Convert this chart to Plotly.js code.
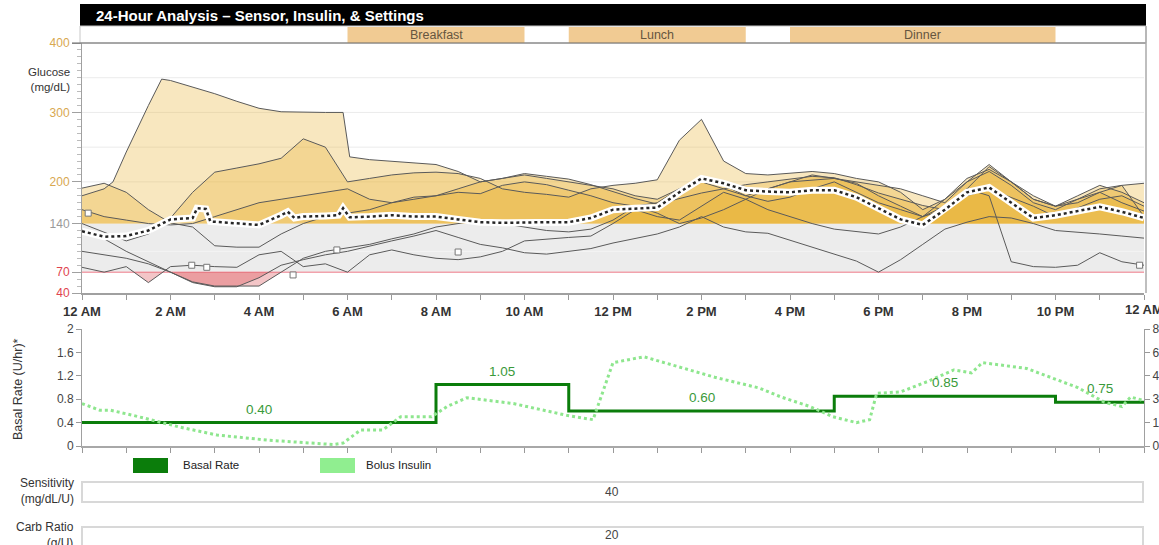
<!DOCTYPE html>
<html><head><meta charset="utf-8">
<script src="https://cdn.plot.ly/plotly-3.0.1.min.js"></script>
<style>html,body{margin:0;padding:0;background:#fff;}#chart{width:1159px;height:545px;}</style>
</head><body><div id="chart"></div>
<script>
// ---------------- DATA ----------------
const TIMES = [0,0.5,1,1.5,2,2.5,3,3.5,4,4.5,5,5.5,6,6.5,7,7.5,8,8.5,9,9.5,10,10.5,11,11.5,12,12.5,13,13.5,14,14.5,15,15.5,16,16.5,17,17.5,18,18.5,19,19.5,20,20.5,21,21.5,22,22.5,23,23.5,24];

const day1Times = [0,0.5,0.7,1,1.5,1.8,2,2.5,3,3.5,4,4.5,5,5.5,5.9,6.05,6.5,7,7.5,8,8.5,9,9.5,10,10.5,11,11.5,12,12.5,13,13.5,14,14.5,15,15.5,16,16.5,17,17.5,18,18.5,19,19.5,20,20.5,21,21.5,22,22.5,23,23.5,24];
const day1Vals  = [180,190,200,243,310,348,346,337,327,316,306,301,300,300,300,236,232,230,228,225,215,200,205,212,208,204,196,186,176,168,176,184,190,196,200,204,208,206,196,184,175,166,160,190,222,200,175,165,180,195,185,170];
const day2Vals = [140,128,115,125,148,185,214,220,226,234,262,250,200,205,210,213,214,212,205,190,185,182,178,190,195,198,203,260,290,230,212,210,212,215,212,205,200,185,160,175,205,218,200,180,165,175,185,170,158];
const day3Vals = [191,198,185,160,141,135,108,106,106,125,140,150,155,160,170,178,180,185,183,195,200,196,188,180,170,165,170,190,205,195,180,172,178,190,200,185,170,160,150,175,200,215,195,170,160,175,190,195,198];
const day4Vals = [131,118,100,85,70,55,49,49,62,80,88,95,100,108,115,122,130,120,110,105,98,96,100,104,112,118,125,135,150,135,128,126,116,106,96,86,70,88,110,132,142,150,148,140,130,128,125,122,119];
const day5Vals = [77,70,78,55,78,80,78,77,95,100,78,82,70,95,102,95,90,88,92,100,115,118,120,122,140,160,150,145,165,185,175,160,150,140,132,128,125,135,150,165,190,180,85,78,77,80,98,85,80];
const day6Vals = [100,95,90,82,70,56,50,50,50,70,90,100,105,110,118,125,135,140,145,140,135,130,128,132,145,165,155,140,148,160,175,190,200,203,205,198,180,165,150,160,180,190,178,165,150,162,175,180,165];
const day7Vals = [160,150,145,140,138,140,150,160,170,175,180,185,190,175,170,175,180,190,200,205,210,205,200,195,190,180,175,190,200,190,180,190,200,210,205,200,195,190,180,170,200,225,200,175,165,170,185,195,150];

const meanTimes = [0,0.5,1,1.5,2,2.5,2.6,2.8,2.9,3.5,4,4.5,4.65,4.8,5,5.5,5.8,5.9,6.05,6.5,7,7.5,8,8.5,9,9.5,10,10.5,11,11.5,12,12.5,13,13.5,14,14.5,15,15.5,16,16.5,17,17.5,18,18.5,19,19.5,20,20.5,21,21.5,22,22.5,23,23.5,24];
const meanVals  = [129,121,122,130,146,148,162,161,143,140,138,152,157,148,150,151,152,162,149,150,152,150,150,146,142,141,142,142,142,148,160,162,163,185,205,198,188,186,185,188,188,178,162,146,138,160,185,192,170,148,152,158,164,157,148];

const calibTimes = [0.14,2.48,2.82,4.77,5.76,8.5,23.9];
const calibVals  = [155,80,77,66,102,99,80];

const basalStarts = [0,8,11,17,22];
const basalRates  = [0.40,1.05,0.60,0.85,0.75];

const bolusTimes = [0,0.4,0.64,1.15,2.2,3.05,4.2,5.67,5.9,6.3,6.8,7.2,7.9,8.25,8.7,9.75,10.95,11.55,11.7,12.0,12.7,13.5,14.3,15.3,15.8,16.45,16.97,17.5,17.8,17.96,18.5,19.1,19.7,20.1,20.35,21.35,22.5,23.1,23.5,23.7,24];
const bolusVals  = [2.9,2.45,2.45,2.1,1.3,0.75,0.4,0.1,0.2,1.1,1.1,2.0,2.0,2.7,3.3,2.9,2.1,1.8,3.1,5.7,6.1,5.4,4.7,3.97,3.35,2.7,2.0,1.6,1.8,3.6,3.7,4.4,5.2,5.0,5.7,5.3,4.0,3.0,2.7,3.35,3.1];

const hourTicks = [0,1,2,3,4,5,6,7,8,9,10,11,12,13,14,15,16,17,18,19,20,21,22,23,24];
const hourLabels = ['12 AM','','2 AM','','4 AM','','6 AM','','8 AM','','10 AM','','12 PM','','2 PM','','4 PM','','6 PM','','8 PM','','10 PM','',''];
const endHourLabel = '12 AM';
const glucoseTicks = [40,70,140,200,300,400];
const glucoseTickColors = ['#E0444E','#E0444E','#9A9A9A','#D8A850','#D8A850','#D8A850'];
const basalTicks = [0,0.4,0.8,1.2,1.6,2];
const bolusTicks = [0,1.6,3.2,4.8,6.4,8];

const mealNames = ['Breakfast','Lunch','Dinner'];
const mealStart = [6,11,16];
const mealEnd   = [10,15,22];

const targetLow = 70, targetHigh = 140;
const sensitivityValue = '40';
const carbRatioValue = '20';

// ---------------- HELPERS ----------------
const W = 1159, H = 545;
const px = v => v / W;
const py = v => 1 - v / H;

function clipPoly(xs, ys, thr, above){
  const ox = [], oy = [];
  for (let i = 0; i < xs.length; i++){
    if (i > 0){
      const y0 = ys[i-1], y1 = ys[i];
      if ((y0 - thr) * (y1 - thr) < 0){
        const f = (thr - y0) / (y1 - y0);
        ox.push(xs[i-1] + f * (xs[i] - xs[i-1])); oy.push(thr);
      }
    }
    ox.push(xs[i]);
    oy.push(above ? Math.max(ys[i], thr) : Math.min(ys[i], thr));
  }
  ox.push(xs[xs.length-1], xs[0]); oy.push(thr, thr);
  return {x: ox, y: oy};
}

const days = [
  {t: day1Times, v: day1Vals},
  {t: TIMES, v: day2Vals},
  {t: TIMES, v: day3Vals},
  {t: TIMES, v: day4Vals},
  {t: TIMES, v: day5Vals},
  {t: TIMES, v: day6Vals},
  {t: TIMES, v: day7Vals}
];

const traces = [];
days.forEach(d => {
  const p = clipPoly(d.t, d.v, targetHigh, true);
  traces.push({x: p.x, y: p.y, xaxis:'x', yaxis:'y', mode:'lines', fill:'toself',
    fillcolor:'rgba(234,176,50,0.31)', line:{width:0}, hoverinfo:'skip', showlegend:false});
});
days.forEach(d => {
  if (Math.min(...d.v) < targetLow){
    const p = clipPoly(d.t, d.v, targetLow, false);
    traces.push({x: p.x, y: p.y, xaxis:'x', yaxis:'y', mode:'lines', fill:'toself',
      fillcolor:'rgba(220,80,86,0.33)', line:{width:0}, hoverinfo:'skip', showlegend:false});
  }
});
days.forEach(d => {
  traces.push({x: d.t, y: d.v, xaxis:'x', yaxis:'y', mode:'lines',
    line:{color:'#5a5a5a', width:1}, hoverinfo:'skip', showlegend:false});
});
traces.push({x: calibTimes, y: calibVals, xaxis:'x', yaxis:'y', mode:'markers',
  marker:{symbol:'square', size:6, color:'#fff', line:{color:'#777', width:1}}, showlegend:false});
traces.push({x: meanTimes, y: meanVals, xaxis:'x', yaxis:'y', mode:'lines',
  line:{color:'#ffffff', width:7}, hoverinfo:'skip', showlegend:false});
traces.push({x: meanTimes, y: meanVals, xaxis:'x', yaxis:'y', mode:'lines',
  line:{color:'#262626', width:2.5, dash:'dot'}, hoverinfo:'skip', showlegend:false});

// basal panel
traces.push({x: bolusTimes, y: bolusVals, xaxis:'x2', yaxis:'y3', mode:'lines',
  line:{color:'#8EE68E', width:3, dash:'dot'}, hoverinfo:'skip', showlegend:false});
traces.push({x: basalStarts.concat([24]), y: basalRates.concat([basalRates[basalRates.length-1]]),
  xaxis:'x2', yaxis:'y2', mode:'lines', line:{color:'#0B7D0B', width:3, shape:'hv'},
  hoverinfo:'skip', showlegend:false});

// ---------------- SHAPES ----------------
const shapes = [];
shapes.push({type:'rect', xref:'x', yref:'y', x0:0, x1:24, y0:targetLow, y1:targetHigh,
  fillcolor:'#ECECEC', line:{width:0}, layer:'below'});
[200,250,300,350].forEach(g => shapes.push({type:'line', xref:'x', yref:'y', x0:0, x1:24, y0:g, y1:g,
  line:{color:'#EBEBEB', width:1}, layer:'below'}));
shapes.push({type:'line', xref:'x', yref:'y', x0:0, x1:24, y0:100, y1:100, line:{color:'#F4F4F4', width:1}, layer:'below'});
shapes.push({type:'line', xref:'x', yref:'y', x0:0, x1:24, y0:targetLow, y1:targetLow,
  line:{color:'#F2A2AC', width:1.5}, layer:'below'});
shapes.push({type:'rect', xref:'paper', yref:'paper', x0:px(80), x1:px(1146), y0:py(26), y1:py(4),
  fillcolor:'#000', line:{width:0}});
shapes.push({type:'rect', xref:'paper', yref:'paper', x0:px(80), x1:px(1146), y0:py(43), y1:py(26),
  fillcolor:'#fff', line:{color:'#C8C8C8', width:1}});
mealNames.forEach((m,i) => shapes.push({type:'rect', xref:'x', yref:'paper', x0:mealStart[i], x1:mealEnd[i],
  y0:py(43), y1:py(27), fillcolor:'#F1CB93', line:{width:0}}));
shapes.push({type:'line', xref:'paper', yref:'paper', x0:px(72), x1:px(1146), y0:py(43), y1:py(43),
  line:{color:'#6a6a6a', width:1.2}});
shapes.push({type:'line', xref:'paper', yref:'paper', x0:px(1146), x1:px(1146), y0:py(293), y1:py(26),
  line:{color:'#AAAAAA', width:1.5}});
shapes.push({type:'rect', xref:'paper', yref:'paper', x0:px(133), x1:px(168), y0:py(473), y1:py(458),
  fillcolor:'#0B7D0B', line:{width:0}});
shapes.push({type:'rect', xref:'paper', yref:'paper', x0:px(320), x1:px(355), y0:py(473), y1:py(458),
  fillcolor:'#90EE90', line:{width:0}});
shapes.push({type:'rect', xref:'paper', yref:'paper', x0:px(82), x1:px(1143), y0:py(502), y1:py(482),
  fillcolor:'#fff', line:{color:'#D8D8D8', width:2}});
shapes.push({type:'rect', xref:'paper', yref:'paper', x0:px(82), x1:px(1143), y0:py(548), y1:py(527),
  fillcolor:'#fff', line:{color:'#D8D8D8', width:2}});

// ---------------- ANNOTATIONS ----------------
const F = 'Liberation Sans, Arial, sans-serif';
const annotations = [];
annotations.push({xref:'paper', yref:'paper', x:px(94), y:py(15.5), xanchor:'left', yanchor:'middle',
  text:'<b>24-Hour Analysis – Sensor, Insulin, &amp; Settings</b>', showarrow:false,
  font:{family:F, size:15, color:'#fff'}});
mealNames.forEach((m,i) => annotations.push({xref:'x', yref:'paper', x:(mealStart[i]+mealEnd[i])/2, y:py(35),
  xanchor:'center', yanchor:'middle', text:m, showarrow:false, font:{family:F, size:12.5, color:'#66563F'}}));
annotations.push({xref:'x', yref:'paper', x:24, y:py(300), xanchor:'center', yanchor:'top',
  text:'<b>'+endHourLabel+'</b>', showarrow:false, font:{family:F, size:13, color:'#333'}});
annotations.push({xref:'paper', yref:'paper', x:px(72), y:py(79), xanchor:'right', yanchor:'middle', align:'right',
  text:'Glucose<br>(mg/dL)', showarrow:false, font:{family:F, size:11.5, color:'#333'}});
annotations.push({xref:'paper', yref:'paper', x:px(18), y:py(389), xanchor:'center', yanchor:'middle',
  text:'Basal Rate (U/hr)*', textangle:-90, showarrow:false, font:{family:F, size:12.5, color:'#333'}});
basalRates.forEach((r,i) => {
  const end = i < basalStarts.length-1 ? basalStarts[i+1] : 24;
  annotations.push({xref:'x2', yref:'y2', x:(basalStarts[i]+end)/2, y:r, xanchor:'center', yanchor:'bottom',
    yshift:4, text:r.toFixed(2), showarrow:false, font:{family:F, size:13.5, color:'#3A9A3A'}});
});
annotations.push({xref:'paper', yref:'paper', x:px(181), y:py(465), xanchor:'left', yanchor:'middle',
  text:'Basal Rate', showarrow:false, font:{family:F, size:11.5, color:'#222'}});
annotations.push({xref:'paper', yref:'paper', x:px(364), y:py(465), xanchor:'left', yanchor:'middle',
  text:'Bolus Insulin', showarrow:false, font:{family:F, size:11.5, color:'#222'}});
annotations.push({xref:'paper', yref:'paper', x:px(76), y:py(490.5), xanchor:'right', yanchor:'middle', align:'right',
  text:'Sensitivity<br>(mg/dL/U)', showarrow:false, font:{family:F, size:12, color:'#333'}});
annotations.push({xref:'paper', yref:'paper', x:px(76), y:py(535), xanchor:'right', yanchor:'middle', align:'right',
  text:'Carb Ratio<br>(g/U)', showarrow:false, font:{family:F, size:12, color:'#333'}});
annotations.push({xref:'paper', yref:'paper', x:px(612), y:py(491.5), xanchor:'center', yanchor:'middle',
  text:sensitivityValue, showarrow:false, font:{family:F, size:12, color:'#444'}});
annotations.push({xref:'paper', yref:'paper', x:px(612), y:py(535), xanchor:'center', yanchor:'middle',
  text:carbRatioValue, showarrow:false, font:{family:F, size:12, color:'#444'}});

// ---------------- LAYOUT ----------------
const xDom = [px(82), px(1144)];
const layout = {
  width: W, height: H, autosize:false,
  margin:{l:0, r:0, t:0, b:0, pad:0},
  paper_bgcolor:'#fff', plot_bgcolor:'rgba(0,0,0,0)',
  showlegend:false,
  font:{family:F},
  xaxis:{domain:xDom, anchor:'y', range:[0,24], tickvals:hourTicks, ticktext:hourLabels,
    ticks:'outside', ticklen:5, tickcolor:'#999', tickwidth:1, showline:true, linecolor:'#A0A0A0', linewidth:2,
    showgrid:false, zeroline:false, tickfont:{family:F, size:13, color:'#333', weight:'bold'}, fixedrange:true},
  yaxis:{domain:[py(293), py(43)], anchor:'x', range:[40,400], tickvals:glucoseTicks,
    ticktext:glucoseTicks.map((g,i)=>'<span style="color:'+glucoseTickColors[i]+'">'+g+'</span>'),
    ticks:'outside', ticklen:9, tickcolor:'#A0A0A0', showline:true, linecolor:'#A0A0A0', linewidth:1,
    showgrid:false, zeroline:false, tickfont:{family:F, size:12},
    minor:{dtick:10, tick0:0, ticks:'outside', ticklen:4, tickcolor:'#BBBBBB', showgrid:false}},
  xaxis2:{domain:xDom, anchor:'y2', range:[0,24], tickvals:hourTicks, showticklabels:false,
    ticks:'outside', ticklen:5, tickcolor:'#999', showline:true, linecolor:'#A8A8A8', linewidth:2,
    showgrid:false, zeroline:false},
  yaxis2:{domain:[py(446), py(329)], anchor:'x2', range:[0,2], tickvals:basalTicks,
    ticktext:basalTicks.map(v=>String(v)),
    ticks:'outside', ticklen:5, tickcolor:'#999', showline:true, linecolor:'#A0A0A0', linewidth:1,
    showgrid:false, zeroline:false, tickfont:{family:F, size:12, color:'#444'}},
  yaxis3:{overlaying:'y2', anchor:'x2', side:'right', range:[0,8], tickvals:bolusTicks,
    ticktext:bolusTicks.map(v=>String(v)),
    ticks:'outside', ticklen:5, tickcolor:'#999', showline:true, linecolor:'#A0A0A0', linewidth:1,
    showgrid:false, zeroline:false, tickfont:{family:F, size:12, color:'#444'}},
  shapes: shapes,
  annotations: annotations
};

Plotly.newPlot('chart', traces, layout, {staticPlot:true, displayModeBar:false});
</script>
</body></html>
